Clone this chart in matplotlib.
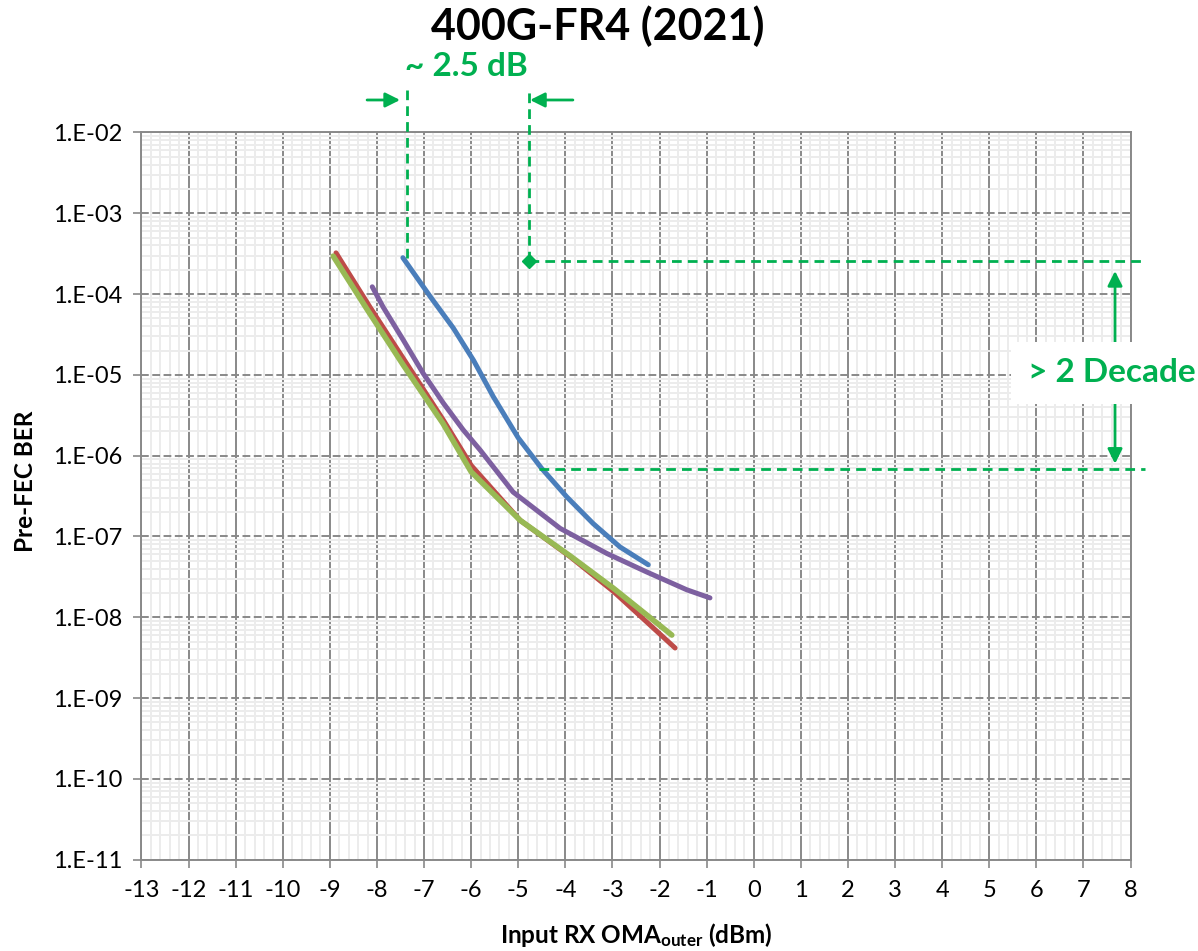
import numpy as np
import matplotlib
matplotlib.use('Agg')
import matplotlib.pyplot as plt
import matplotlib.ticker as mticker

plt.rcParams['font.family'] = ['Lato', 'DejaVu Sans']
plt.rcParams['mathtext.default'] = 'regular'
plt.rcParams['axes.unicode_minus'] = False

# 数据 (x: dBm, y: log10(BER))
blue_x = [-7.45, -6.87, -6.38, -5.95, -5.53, -5.0, -4.5, -3.97, -3.41, -2.84, -2.24]
blue_log = [-3.55, -4.03, -4.42, -4.82, -5.27, -5.78, -6.16, -6.51, -6.84, -7.13, -7.35]

red_x = [-8.87, -8.15, -7.37, -6.59, -6.0, -4.96, -3.9, -2.98, -1.67]
red_log = [-3.49, -4.16, -4.86, -5.56, -6.12, -6.80, -7.25, -7.68, -8.38]

green_x = [-8.93, -8.22, -7.44, -6.6, -6.0, -4.96, -3.9, -2.98, -1.74]
green_log = [-3.53, -4.18, -4.88, -5.60, -6.20, -6.80, -7.24, -7.64, -8.22]

purple_x = [-8.10, -7.87, -7.44, -7.02, -6.59, -6.17, -5.81, -5.11, -4.11, -3.12, -2.27, -1.42, -0.93]
purple_log = [-3.91, -4.16, -4.57, -4.98, -5.35, -5.68, -5.93, -6.45, -6.90, -7.21, -7.44, -7.66, -7.76]

x_ticks = list(range(-13, 9))
y_ticks_exp = list(range(-11, -1))

# 标注
ref_hi_x, ref_hi_ber = -4.77, 10 ** -3.59
ref_lo_x, ref_lo_ber = -4.57, 10 ** -6.17
start_x = -7.36

green = '#00B050'
grey = '#898989'

fig = plt.figure(figsize=(11.98, 9.51), dpi=100)
ax = fig.add_axes([0.1181, 0.0960, 0.8256, 0.7647])

ax.set_yscale('log')
ax.set_xlim(-13, 8)
ax.set_ylim(1e-11, 1e-2)

# 网格
ax.set_xticks(x_ticks)
ax.xaxis.set_minor_locator(mticker.MultipleLocator(0.2))
ax.set_yticks([10.0 ** e for e in y_ticks_exp])
ax.yaxis.set_minor_locator(mticker.LogLocator(base=10, subs=np.arange(2, 10), numticks=20))
ax.yaxis.set_minor_formatter(mticker.NullFormatter())
ax.yaxis.set_major_formatter(mticker.FuncFormatter(lambda v, p: '1.E-%02d' % round(-np.log10(v))))

ax.grid(which='minor', axis='both', color='#ececec', linewidth=1.4, linestyle='-')
ax.grid(which='major', axis='x', color=grey, linewidth=1.4, linestyle='-')
ax.grid(which='major', axis='y', color=grey, linewidth=1.4, linestyle=(0, (4, 1.8)))
ax.set_axisbelow(True)

for s in ax.spines.values():
    s.set_color(grey)
    s.set_linewidth(1.4)

ax.tick_params(which='major', direction='out', length=5.5, width=1.2, color=grey,
               labelsize=17, labelcolor='black')
ax.tick_params(axis='x', which='major', pad=9)
ax.tick_params(axis='y', which='major', pad=8)
ax.tick_params(which='minor', length=0)

# 曲线
lw = 3.6
ax.plot(blue_x, 10.0 ** np.array(blue_log), color='#4A7EBB', lw=lw, solid_capstyle='round', zorder=3)
ax.plot(red_x, 10.0 ** np.array(red_log), color='#BE4B48', lw=lw, solid_capstyle='round', zorder=3)
ax.plot(green_x, 10.0 ** np.array(green_log), color='#98B954', lw=lw + 0.4, solid_capstyle='round', zorder=3)
ax.plot(purple_x, 10.0 ** np.array(purple_log), color='#7D60A0', lw=lw, solid_capstyle='round', zorder=3)

# 绿色标注线
dash = (0, (3.5, 2.2))
top_ber = 10 ** -1.474
ax.plot([start_x, start_x], [10 ** blue_log[0], top_ber], color=green, lw=2, ls=dash, clip_on=False, zorder=4)
ax.plot([ref_hi_x, ref_hi_x], [ref_hi_ber, top_ber], color=green, lw=2, ls=dash, clip_on=False, zorder=4)
ax.plot([ref_hi_x, 8.31], [ref_hi_ber, ref_hi_ber], color=green, lw=2, ls=dash, clip_on=False, zorder=4)
ax.plot([ref_lo_x, 8.31], [ref_lo_ber, ref_lo_ber], color=green, lw=2, ls=dash, clip_on=False, zorder=4)
ax.plot([ref_hi_x], [ref_hi_ber], marker='D', color=green, markersize=7, clip_on=False, zorder=5)

arrow_y = 10 ** -1.598
ap = dict(arrowstyle='-|>', color=green, lw=2, mutation_scale=22, shrinkA=0, shrinkB=0)
ax.annotate('', xy=(-7.51, arrow_y), xytext=(-8.21, arrow_y), arrowprops=ap, annotation_clip=False)
ax.annotate('', xy=(-4.75, arrow_y), xytext=(-3.84, arrow_y), arrowprops=ap, annotation_clip=False)
ax.text(-6.1, 10 ** -1.18, '~ 2.5 dB', color=green, fontsize=24, fontweight='bold',
        ha='center', va='center', clip_on=False)

ax.annotate('', xy=(7.67, 10 ** -3.714), xytext=(7.67, 10 ** -4.9), arrowprops=ap, annotation_clip=False)
ax.annotate('', xy=(7.67, 10 ** -6.10), xytext=(7.67, 10 ** -5.0), arrowprops=ap, annotation_clip=False)
ax.text(7.6, 10 ** -4.976, '> 2 Decade', color=green, fontsize=24, fontweight='bold',
        ha='center', va='center', clip_on=False, zorder=6,
        bbox=dict(facecolor='white', edgecolor='none', pad=12))

# 标题和坐标轴标签
fig.text(0.499, 0.972, '400G-FR4 (2021)', fontsize=31, fontweight='bold', ha='center', va='center')
fig.text(0.531, 0.017, r'Input RX OMA$_{\mathregular{outer}}$ (dBm)', fontsize=17.5,
         fontweight='bold', ha='center', va='center')
fig.text(0.021, 0.494, 'Pre-FEC BER', fontsize=17.5, fontweight='bold', rotation=90,
         ha='center', va='center')

plt.savefig('out.png', dpi=100)
plt.close()
